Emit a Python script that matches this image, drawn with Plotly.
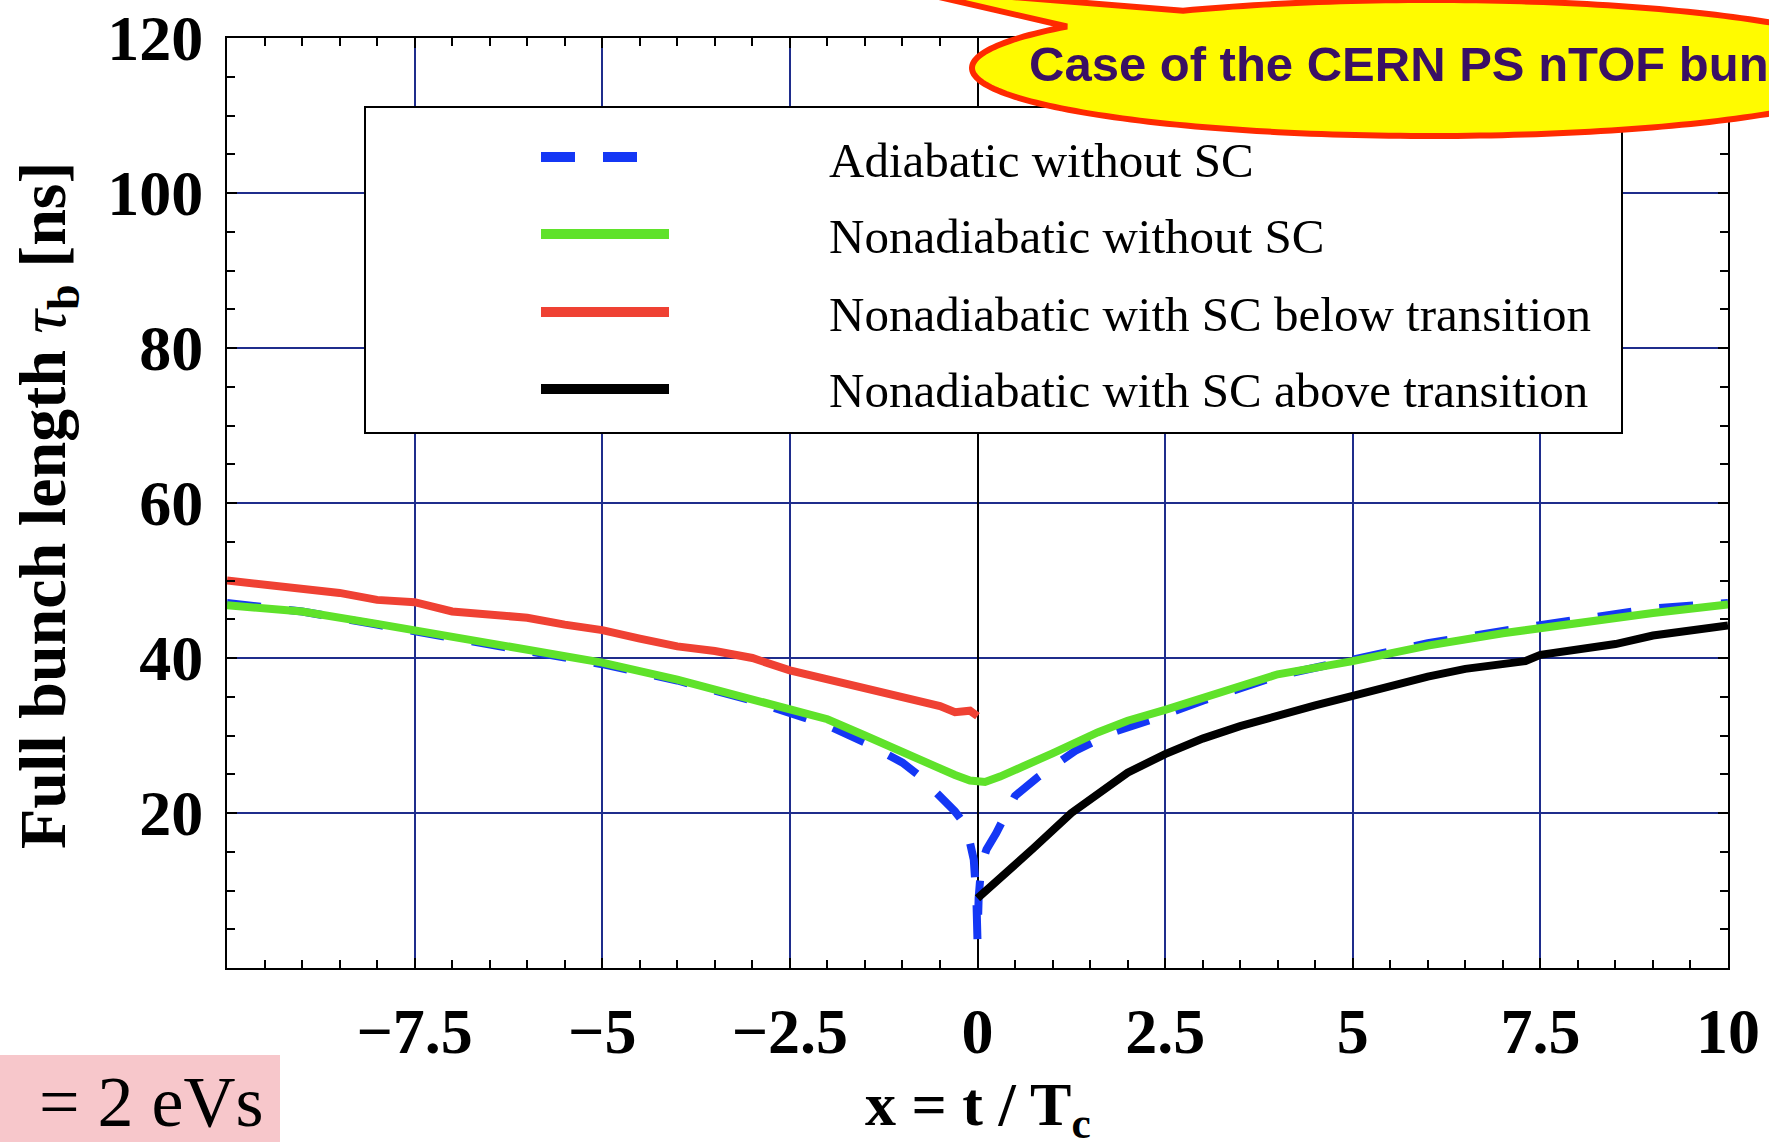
import numpy as np
import plotly.graph_objects as go

# ---------------- data ----------------
x_adiabatic = [-10, -9, -8, -7, -6, -5, -4, -3, -2.5, -2, -1.5, -1.25, -1, -0.75, -0.5,
               -0.3, -0.15, -0.05, -0.015, 0, 0.015, 0.05, 0.12, 0.25, 0.5, 0.8, 1.3,
               1.8, 2.3, 3, 4, 5, 6, 7, 8, 9, 10]
y_adiabatic = [47.1, 46.0, 44.3, 42.7, 40.9, 39.2, 37.1, 34.5, 32.9, 31.3, 29.1, 27.9, 26.5,
               24.6, 22.2, 20.2, 18.3, 14.0, 9.0, 3.5, 9.0, 13.2, 15.3, 17.4, 22.2, 24.6,
               28.0, 30.4, 32.0, 34.5, 37.7, 39.8, 41.9, 43.5, 45.0, 46.4, 47.1]

x_nonad = [-10, -9, -8, -7, -6, -5, -4, -3, -2.5, -2, -1.5, -1, -0.6, -0.3, -0.1, 0, 0.1,
           0.3, 0.6, 1, 1.6, 2, 2.5, 3, 4, 5, 6, 7, 7.5, 8, 9, 10]
y_nonad = [46.8, 46.0, 44.4, 42.8, 41.0, 39.4, 37.2, 34.7, 33.6, 32.1, 30.0, 27.9, 26.0,
           24.9, 24.2, 24.0, 24.0, 24.7, 25.9, 27.7, 30.4, 31.9, 33.3, 34.8, 37.9, 39.6,
           41.6, 43.2, 43.9, 44.6, 45.8, 46.9]

x_sc_below = [-10, -9.5, -9, -8.5, -8, -7.5, -7, -6.5, -6, -5.5, -5, -4.5, -4, -3.5, -3,
              -2.5, -2, -1.5, -1, -0.5, -0.3, -0.1, 0]
y_sc_below = [50.0, 49.4, 48.8, 48.4, 47.5, 47.2, 46.0, 45.7, 45.2, 44.3, 43.6, 42.5, 41.5,
              40.9, 40.0, 38.4, 37.3, 36.2, 35.1, 33.8, 33.0, 33.2, 32.5]

x_sc_above = [0, 0.4, 0.75, 1.25, 1.6, 2.0, 2.5, 3.0, 3.5, 4, 4.5, 5, 5.5, 6, 6.5, 7, 7.3,
              7.5, 8, 8.5, 9, 9.5, 10]
y_sc_above = [9.0, 12.3, 15.5, 20.0, 22.3, 25.2, 27.6, 29.6, 31.2, 32.6, 33.9, 35.1, 36.4,
              37.6, 38.6, 39.3, 39.6, 40.4, 41.0, 41.8, 42.9, 43.6, 44.2]

series_names = ["Adiabatic without SC", "Nonadiabatic without SC",
                "Nonadiabatic with SC below transition",
                "Nonadiabatic with SC above transition"]

x_tickvals = [-7.5, -5, -2.5, 0, 2.5, 5, 7.5, 10]
x_ticklabels = ["\u22127.5", "\u22125", "\u22122.5", "0", "2.5", "5", "7.5", "10"]
y_tickvals = [20, 40, 60, 80, 100, 120]
y_ticklabels = ["20", "40", "60", "80", "100", "120"]

# ---------------- style ----------------
BLUE = "#1437f5"
GREEN = "#5fe22a"
RED = "#ef4133"
BLACK = "#000000"
GRID = "#1f2d8c"
SERIF = "Liberation Serif"
SANS = "Liberation Sans"

W, H = 1769, 1142
L, R, T, B = 227, 41, 38, 174
PW = W - L - R
PH = H - T - B


def px(x):
    return (x - L) / PW


def py(y):
    return (H - B - y) / PH


fig = go.Figure()
DASH = "34px,28px"
fig.add_trace(go.Scatter(x=x_adiabatic, y=y_adiabatic, mode="lines", name=series_names[0],
                         line=dict(color=BLUE, width=8, dash=DASH)))
fig.add_trace(go.Scatter(x=x_nonad, y=y_nonad, mode="lines", name=series_names[1],
                         line=dict(color=GREEN, width=8)))
fig.add_trace(go.Scatter(x=x_sc_below, y=y_sc_below, mode="lines", name=series_names[2],
                         line=dict(color=RED, width=8)))
fig.add_trace(go.Scatter(x=x_sc_above, y=y_sc_above, mode="lines", name=series_names[3],
                         line=dict(color=BLACK, width=8)))

fig.update_layout(
    width=W, height=H,
    margin=dict(l=L, r=R, t=T, b=B, pad=0, autoexpand=False),
    paper_bgcolor="white", plot_bgcolor="white",
    showlegend=False,
)

common = dict(ticks="inside", tickwidth=2, tickcolor="black", showline=True,
              linecolor="black", linewidth=2, mirror="allticks", showgrid=True,
              gridcolor=GRID, gridwidth=2, automargin=False)

fig.update_xaxes(range=[-10, 10], tickmode="array", tickvals=x_tickvals,
                 ticktext=["<b>%s</b>" % t for t in x_ticklabels], ticklen=10,
                 zeroline=True, zerolinecolor="black", zerolinewidth=2,
                 tickfont=dict(family=SERIF, size=64, color="black"),
                 ticklabelstandoff=6,
                 minor=dict(tickmode="linear", tick0=0, dtick=0.5, ticks="inside",
                            ticklen=8, tickwidth=2, tickcolor="black", showgrid=False),
                 **common)
fig.update_yaxes(range=[0, 120], tickmode="array", tickvals=y_tickvals,
                 ticktext=["<b>%s</b>" % t for t in y_ticklabels], ticklen=10,
                 zeroline=False,
                 tickfont=dict(family=SERIF, size=64, color="black"),
                 ticklabelstandoff=9,
                 minor=dict(tickmode="linear", tick0=0, dtick=5, ticks="inside",
                            ticklen=8, tickwidth=2, tickcolor="black", showgrid=False),
                 **common)

shapes = []
annotations = []

# legend box
shapes.append(dict(type="rect", xref="paper", yref="paper", x0=px(365), x1=px(1622),
                   y0=py(433), y1=py(107), fillcolor="white",
                   line=dict(color="black", width=2), layer="above"))
rows = [157, 234, 312, 389]
colors = [BLUE, GREEN, RED, BLACK]
for i, (yy, c) in enumerate(zip(rows, colors)):
    x1 = 637 if i == 0 else 669
    shapes.append(dict(type="line", xref="paper", yref="paper", x0=px(541), x1=px(x1),
                       y0=py(yy), y1=py(yy), layer="above",
                       line=dict(color=c, width=10, dash=DASH if i == 0 else "solid")))
text_rows = [160, 236, 314, 391]
for name, yy in zip(series_names, text_rows):
    annotations.append(dict(xref="paper", yref="paper", x=px(827), y=py(yy),
                            xanchor="left", yanchor="middle", showarrow=False, text=name,
                            font=dict(family=SERIF, size=49, color="black")))

# speech bubble (decoration)
cx, cy, rx, ry = 1430.0, 68.0, 458.0, 68.0
t1 = np.arctan2(-np.sqrt(1 - ((1067 - cx) / rx) ** 2), (1067 - cx) / rx)
t2 = np.arctan2(-np.sqrt(1 - ((1183 - cx) / rx) ** 2), (1183 - cx) / rx)
ts = np.linspace(t2, t1 + 2 * np.pi, 240)
pts = [(cx + rx * np.cos(t), cy + ry * np.sin(t)) for t in ts]
pts.append((900.0, -12.0))
path = "M " + " L ".join("%.5f,%.5f" % (px(a), py(b)) for a, b in pts) + " Z"
shapes.append(dict(type="path", xref="paper", yref="paper", path=path,
                   fillcolor="#fffb00", line=dict(color="#ff2a00", width=6), layer="above"))
annotations.append(dict(xref="paper", yref="paper", x=px(1027), y=py(64), xanchor="left",
                        yanchor="middle", showarrow=False,
                        text="<b>Case of the CERN PS nTOF bunch</b>",
                        font=dict(family=SANS, size=49, color="#3a1064")))

# pink box bottom-left
shapes.append(dict(type="rect", xref="paper", yref="paper", x0=px(0), x1=px(280),
                   y0=py(1142), y1=py(1055), fillcolor="#f7c7cb", line=dict(width=0),
                   layer="above"))
annotations.append(dict(xref="paper", yref="paper", x=px(37), y=py(1102), xanchor="left",
                        yanchor="middle", showarrow=False, text="= 2 eVs",
                        font=dict(family=SERIF, size=72, color="black")))

# axis titles
annotations.append(dict(xref="paper", yref="paper", x=px(47), y=py(505), xanchor="center",
                        yanchor="middle", showarrow=False, textangle=-90,
                        text="<b>Full bunch length </b><i>\u03c4</i><sub><b>b</b></sub><b> [ns]</b>",
                        font=dict(family=SERIF, size=66, color="black")))
annotations.append(dict(xref="paper", yref="paper", x=px(978), y=py(1108), xanchor="center",
                        yanchor="middle", showarrow=False,
                        text="<b>x = t / T<sub>c</sub></b>",
                        font=dict(family=SERIF, size=62, color="black")))

fig.update_layout(shapes=shapes, annotations=annotations)
fig.write_html("out.html")
